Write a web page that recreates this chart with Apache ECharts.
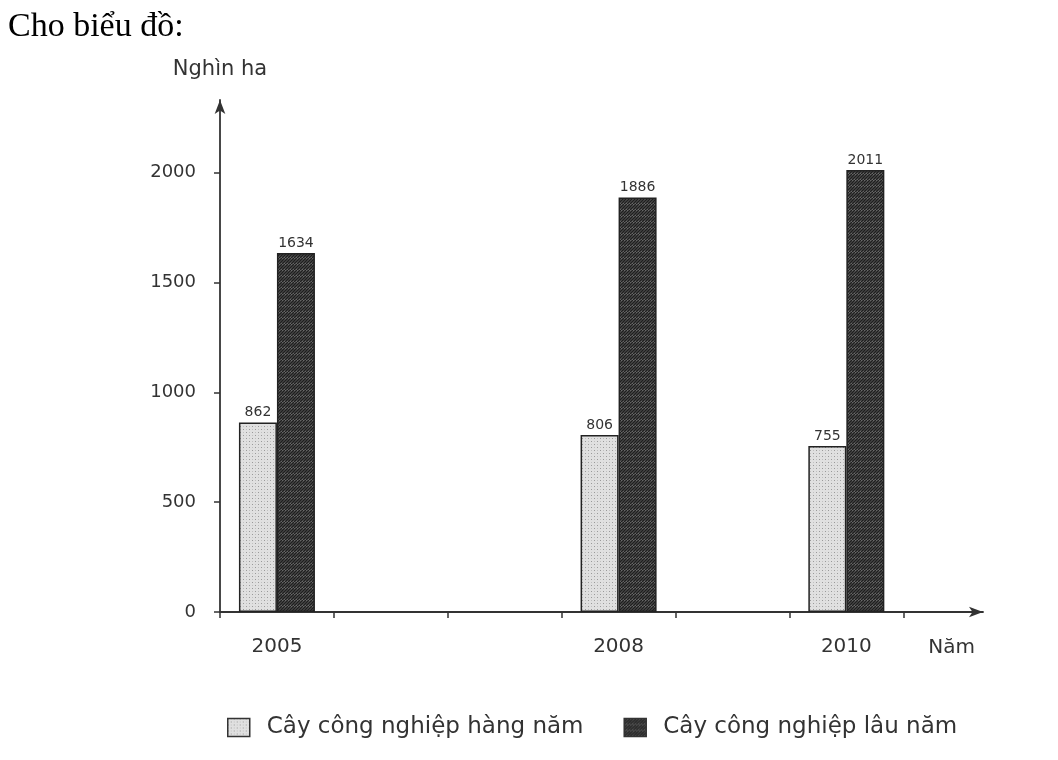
<!DOCTYPE html>
<html><head><meta charset="utf-8">
<script src="https://cdn.jsdelivr.net/npm/echarts@6/dist/echarts.min.js"></script>
<style>html,body{margin:0;padding:0;background:#fff}#c{width:1058px;height:760px}</style>
</head><body><div id="c"></div>
<script>
const years = [2005, 2008, 2010];
const annualCrops = [862, 806, 755];
const perennialCrops = [1634, 1886, 2011];
const seriesNames = ['Cây công nghiệp hàng năm', 'Cây công nghiệp lâu năm'];
const yTicks = [0, 500, 1000, 1500, 2000];
const xBoundaryTicks = [2004.5, 2005.5, 2006.5, 2007.5, 2008.5, 2009.5, 2010.5];

function makePattern(kind) {
  const c = document.createElement('canvas');
  c.width = 6; c.height = 6;
  const g = c.getContext('2d');
  if (kind === 'light') {
    g.fillStyle = '#e0e0e0'; g.fillRect(0, 0, 6, 6);
    g.fillStyle = '#999';
    g.fillRect(0, 0, 1, 1); g.fillRect(3, 3, 1, 1);
    g.fillStyle = '#c0c0c0';
    g.fillRect(3, 0, 1, 1); g.fillRect(0, 3, 1, 1);
  } else {
    g.fillStyle = '#8c8c8c'; g.fillRect(0, 0, 6, 6);
    g.strokeStyle = '#1e1e1e'; g.lineWidth = 1.6;
    g.beginPath();
    for (let k = -6; k <= 12; k += 3) { g.moveTo(k, 6); g.lineTo(k + 6, 0); }
    g.stroke();
  }
  return { image: c, repeat: 'repeat' };
}

const chart = echarts.init(document.getElementById('c'));
const font = '"DejaVu Sans", "Liberation Sans", Arial, sans-serif';
chart.setOption({
  animation: false,
  title: { text: 'Cho biểu đồ:', left: 3, top: 5,
    textStyle: { fontFamily: '"Liberation Serif", "Times New Roman", serif', fontSize: 34, fontWeight: 'normal', color: '#000' } },
  legend: {
    bottom: 16, left: 222, itemWidth: 22, itemHeight: 18, itemGap: 40, icon: 'rect',
    textStyle: { fontFamily: font, fontSize: 23, color: '#333', padding: [0, 0, 0, 12] },
    itemStyle: { borderColor: '#333', borderWidth: 1.5 },
    data: seriesNames
  },
  grid: { left: 220, right: 75, top: 100, bottom: 148 },
  xAxis: {
    type: 'value', min: 2004.5, max: 2011.2,
    name: 'Năm', nameLocation: 'end', nameGap: -8,
    nameTextStyle: { fontFamily: font, fontSize: 20, color: '#333', align: 'right', verticalAlign: 'top', padding: [26, 0, 0, 0] },
    axisLine: { show: true, symbol: ['none', 'arrow'], symbolSize: [8, 14], lineStyle: { color: '#333', width: 1.8 } },
    axisTick: { show: true, customValues: xBoundaryTicks, length: 6, inside: false, lineStyle: { color: '#333', width: 1.5 } },
    axisLabel: { customValues: years, margin: 25, fontFamily: font, fontSize: 20, color: '#333', formatter: v => String(v) },
    splitLine: { show: false }
  },
  yAxis: {
    type: 'value', min: 0, max: 2330,
    name: 'Nghìn ha', nameLocation: 'end', nameGap: 20,
    nameTextStyle: { fontFamily: font, fontSize: 21, color: '#333', align: 'center' },
    axisLine: { show: true, symbol: ['none', 'arrow'], symbolSize: [8, 14], lineStyle: { color: '#333', width: 1.8 } },
    axisTick: { show: true, customValues: yTicks, length: 6, lineStyle: { color: '#333', width: 1.5 } },
    axisLabel: { customValues: yTicks, margin: 24, fontFamily: font, fontSize: 18, color: '#333', formatter: v => String(v) },
    splitLine: { show: false }
  },
  series: [
    { name: seriesNames[0], type: 'bar', barWidth: 38, barGap: '0%',
      data: years.map((y, i) => [y, annualCrops[i]]),
      itemStyle: { color: makePattern('light'), borderColor: '#222', borderWidth: 1.5 },
      label: { show: true, position: 'top', distance: 3, fontFamily: font, fontSize: 14, color: '#333', formatter: p => p.value[1] } },
    { name: seriesNames[1], type: 'bar', barWidth: 38, barGap: '0%',
      data: years.map((y, i) => [y, perennialCrops[i]]),
      itemStyle: { color: makePattern('dark'), borderColor: '#222', borderWidth: 1.5 },
      label: { show: true, position: 'top', distance: 3, fontFamily: font, fontSize: 14, color: '#333', formatter: p => p.value[1] } }
  ]
});
</script></body></html>
